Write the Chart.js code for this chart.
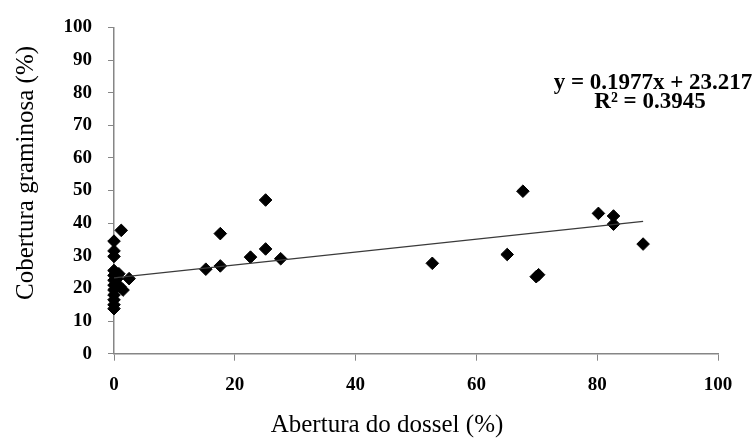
<!DOCTYPE html>
<html><head><meta charset="utf-8">
<script src="https://cdn.jsdelivr.net/npm/chart.js@4"></script>
<style>html,body{margin:0;padding:0;background:#fff}#wrap{width:755px;height:439px}</style>
</head><body><div id="wrap"><canvas id="c" width="755" height="439"></canvas></div>
<script>
// Data
const xValues = [0, 0, 0, 0, 0, 0, 0, 0, 0, 0, 0, 0, 0.5, 1.0, 1.5, 2.5, 1.2, 0.8,
  15.2, 17.6, 17.6, 22.6, 25.1, 25.1, 27.6,
  52.7, 65.1, 67.7, 69.9, 70.3, 80.2, 82.7, 82.7, 87.6];
const yValues = [34.5, 31.5, 29.8, 25.5, 24.0, 22.5, 21.0, 19.5, 18.0, 16.5, 15.0, 13.8, 23.0, 20.5, 19.5, 23.0, 37.8, 24.5,
  25.9, 26.9, 36.8, 29.6, 47.1, 32.1, 29.1,
  27.7, 30.4, 49.8, 23.6, 24.2, 43.0, 42.2, 39.7, 33.6];
const xTicks = [0, 20, 40, 60, 80, 100];
const yTicks = [0, 10, 20, 30, 40, 50, 60, 70, 80, 90, 100];
const trendSlope = 0.1977;
const trendIntercept = 23.217;
const trendX = [0, 87.6];
const xTitle = 'Abertura do dossel (%)';
const yTitle = 'Cobertura graminosa (%)';
const eqLines = ['y = 0.1977x + 23.217', 'R\u00B2 = 0.3945'];

const points = xValues.map((x, i) => ({x: x, y: yValues[i]}));
const trend = trendX.map(x => ({x: x, y: trendSlope * x + trendIntercept}));

const serif = '"Liberation Serif", "Times New Roman", serif';
const axisColor = '#868686';

const textPlugin = {
  id: 'texts',
  afterDraw(chart) {
    const ctx = chart.ctx;
    ctx.save();
    ctx.fillStyle = '#000';
    // x axis title
    ctx.font = '25px ' + serif;
    ctx.textAlign = 'center';
    ctx.textBaseline = 'alphabetic';
    ctx.fillText(xTitle, 387, 432);
    // y axis title
    ctx.save();
    ctx.translate(33, 173);
    ctx.rotate(-Math.PI / 2);
    ctx.fillText(yTitle, 0, 0);
    ctx.restore();
    // regression equation
    ctx.font = 'bold 23px ' + serif;
    ctx.textBaseline = 'middle';
    ctx.fillText(eqLines[0], 653, 83);
    ctx.fillText(eqLines[1], 650, 102);
    ctx.restore();
  }
};

new Chart(document.getElementById('c'), {
  type: 'scatter',
  data: {
    datasets: [
      {
        type: 'line',
        data: trend,
        borderColor: '#3a3a3a',
        borderWidth: 1.2,
        pointRadius: 0,
        fill: false,
        clip: false,
        order: 0
      },
      {
        data: points,
        pointStyle: 'rectRot',
        pointRadius: 6.3,
        pointBackgroundColor: '#000',
        pointBorderColor: '#000',
        pointBorderWidth: 1,
        clip: false,
        order: 1
      }
    ]
  },
  options: {
    responsive: false,
    devicePixelRatio: 1,
    animation: false,
    layout: {padding: {left: 0, right: 37, top: 25, bottom: 0}},
    plugins: {legend: {display: false}, tooltip: {enabled: false}, title: {display: false}},
    scales: {
      x: {
        type: 'linear', min: 0, max: 100,
        afterBuildTicks: s => { s.ticks = xTicks.map(v => ({value: v})); },
        afterFit: s => { s.height = 85.3; },
        ticks: {color: '#000', font: {family: serif, size: 19, weight: 'bold'}, padding: 13, maxRotation: 0},
        grid: {drawOnChartArea: false, tickLength: 7, color: axisColor, lineWidth: 1},
        border: {color: axisColor, width: 1.5}
      },
      y: {
        type: 'linear', min: 0, max: 100,
        afterBuildTicks: s => { s.ticks = yTicks.map(v => ({value: v})); },
        afterFit: s => { s.width = 114; },
        ticks: {color: '#000', font: {family: serif, size: 19, weight: 'bold'}, padding: 16},
        grid: {drawOnChartArea: false, tickLength: 6, color: axisColor, lineWidth: 1},
        border: {color: axisColor, width: 1.5}
      }
    }
  },
  plugins: [textPlugin]
});
</script>
</body></html>
